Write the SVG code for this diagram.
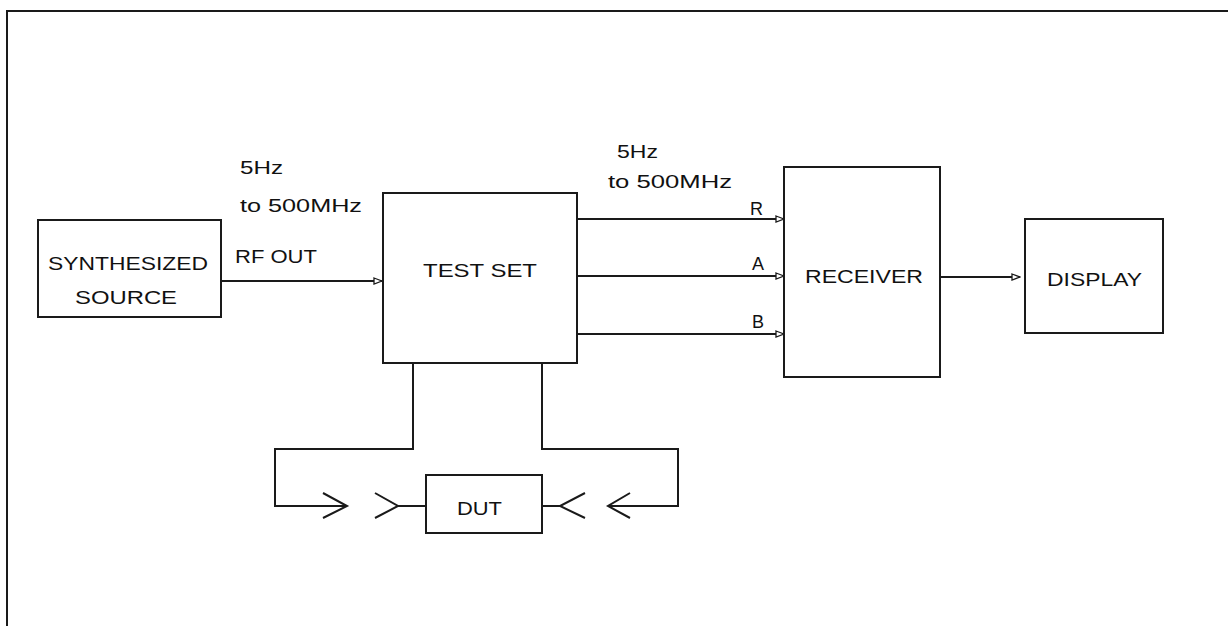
<svg xmlns="http://www.w3.org/2000/svg" width="1228" height="626" viewBox="0 0 1228 626">
<style>
.box{fill:#fff;stroke:#1a1a1a;stroke-width:2}
.ln{fill:none;stroke:#1a1a1a;stroke-width:2}
.t{font-family:"Liberation Sans",Arial,sans-serif;font-size:18px;fill:#111}
</style>
<defs>
<marker id="ah" markerWidth="10" markerHeight="8" refX="9" refY="4" orient="auto" markerUnits="userSpaceOnUse">
<path d="M1,1 L9,4 L1,7 Z" fill="#fff" stroke="#1a1a1a" stroke-width="1.3"/>
</marker>
</defs>
<rect width="1228" height="626" fill="#fff"/>
<g id="frame">
<path class="ln" d="M7,626 V11 H1228" stroke-width="1.5"/>
</g>
<g id="connectors">
<line class="ln" x1="221" y1="281" x2="382" y2="281" marker-end="url(#ah)"/>
<line class="ln" x1="577" y1="219" x2="784" y2="219" marker-end="url(#ah)"/>
<line class="ln" x1="577" y1="276" x2="784" y2="276" marker-end="url(#ah)"/>
<line class="ln" x1="577" y1="334" x2="784" y2="334" marker-end="url(#ah)"/>
<line class="ln" x1="940" y1="277" x2="1020" y2="277" marker-end="url(#ah)"/>
<path class="ln" d="M413,363 V449 H275 V506 H347"/>
<path class="ln" d="M323,493 L347,506 L323,518"/>
<path class="ln" d="M375,493 L398,506 L375,518 M398,506 H426"/>
<path class="ln" d="M542,363 V449 H678 V506 H608"/>
<path class="ln" d="M630,493 L608,506 L630,518"/>
<path class="ln" d="M585,493 L560,506 L585,518 M560,506 H542"/>
</g>
<g id="labels">
<text class="t" x="240" y="174" textLength="43" lengthAdjust="spacingAndGlyphs">5Hz</text>
<text class="t" x="240" y="212" textLength="122" lengthAdjust="spacingAndGlyphs">to 500MHz</text>
<text class="t" x="235" y="263" textLength="82" lengthAdjust="spacingAndGlyphs">RF OUT</text>
<text class="t" x="617" y="158" textLength="41" lengthAdjust="spacingAndGlyphs">5Hz</text>
<text class="t" x="608" y="188" textLength="124" lengthAdjust="spacingAndGlyphs">to 500MHz</text>
<text class="t" x="750" y="215">R</text>
<text class="t" x="752" y="270">A</text>
<text class="t" x="752" y="328">B</text>
</g>
<g id="source">
<rect class="box" x="38" y="220" width="183" height="97"/>
<text class="t" x="48" y="270" textLength="160" lengthAdjust="spacingAndGlyphs">SYNTHESIZED</text>
<text class="t" x="75" y="304" textLength="102" lengthAdjust="spacingAndGlyphs">SOURCE</text>
</g>
<g id="testset">
<rect class="box" x="383" y="193" width="194" height="170"/>
<text class="t" x="423" y="277" textLength="114" lengthAdjust="spacingAndGlyphs">TEST SET</text>
</g>
<g id="receiver">
<rect class="box" x="784" y="167" width="156" height="210"/>
<text class="t" x="805" y="283" textLength="118" lengthAdjust="spacingAndGlyphs">RECEIVER</text>
</g>
<g id="display">
<rect class="box" x="1025" y="219" width="138" height="114"/>
<text class="t" x="1047" y="286" textLength="95" lengthAdjust="spacingAndGlyphs">DISPLAY</text>
</g>
<g id="dut">
<rect class="box" x="426" y="475" width="116" height="58"/>
<text class="t" x="457" y="515" textLength="45" lengthAdjust="spacingAndGlyphs">DUT</text>
</g>
</svg>
